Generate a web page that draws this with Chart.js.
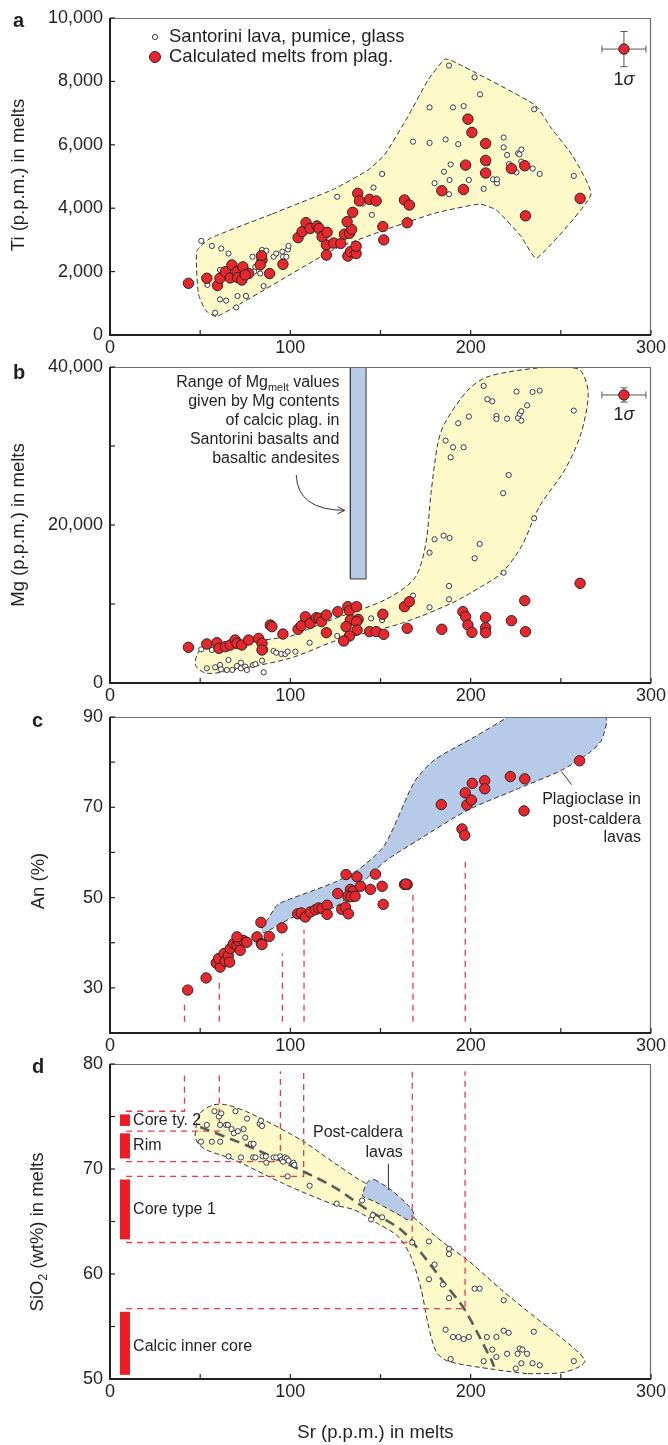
<!DOCTYPE html>
<html>
<head>
<meta charset="utf-8">
<title>Sr in melts — Santorini</title>
<script src="https://cdn.jsdelivr.net/npm/chart.js@4.4.1/dist/chart.umd.min.js"></script>
<style>
  html, body { margin:0; padding:0; background:#fff; }
  #wrap { position:relative; width:668px; height:1445px; overflow:hidden; }
  #wrap canvas { position:absolute; left:0; top:0; }
</style>
</head>
<body>
<div id="wrap">
  <canvas id="panelA" width="668" height="1445"></canvas>
  <canvas id="panelB" width="668" height="1445"></canvas>
  <canvas id="panelC" width="668" height="1445"></canvas>
  <canvas id="panelD" width="668" height="1445"></canvas>
</div>
<script>
// ================= DATA =================
const srLabels  = [0, 100, 200, 300];
const tiLabels  = [0, 2000, 4000, 6000, 8000, 10000];
const mgLabels  = [0, 20000, 40000];
const anLabels  = [30, 50, 70, 90];
const sioLabels = [50, 60, 70, 80];

// panel a : Sr vs Ti
const tiMelts = [[43.5,1630],[53.7,1790],[59.6,1560],[61,1790],[64,2000],[67.6,2210],[66.7,1800],[70.4,2000],[70.8,1810],[73.7,2150],[73.1,1735],[76.9,1940],[75,1900],[84.3,2370],[84,2500],[83.3,2210],[88.5,1940],[95.9,2230],[104.3,3070],[106.5,3260],[108.7,3545],[111,3360],[114.8,3440],[115.9,3360],[117.6,3100],[120.4,3240],[120,2840],[120,2520],[124,2900],[128,2890],[131.9,2490],[133.3,2630],[136.5,2570],[136.5,2800],[130,3180],[132.8,3210],[134,3330],[131.5,3575],[134.6,3870],[137.4,4470],[138.3,4230],[143.9,4280],[147.6,4230],[151.3,3420],[151.8,3000],[163.3,4260],[166,4100],[164.8,3540],[184,4550],[196,4590],[197.2,5360],[198.5,6810],[200.7,6390],[208.3,6040],[208.3,5510],[208.3,5110],[222.6,5250],[230,5340],[230.4,3760],[260.7,4310]];
const tiLavas = [[50.6,2970],[56.5,2810],[61.7,2730],[65.7,2570],[54,1580],[61,1125],[64.4,1085],[58.3,700],[70.7,1230],[75.4,1230],[70,870],[61,2050],[79,2470],[80.6,2150],[85.2,1545],[84.3,2680],[86.7,2660],[85,2470],[80,2000],[83.3,1940],[90.7,2470],[92.2,2570],[95.6,2630],[96,2470],[97.8,2470],[98.7,2700],[99,2810],[126,4360],[140.2,4150],[146.1,4650],[150.9,5080],[145.2,3790],[168,6100],[177.2,7180],[177.2,6060],[186.1,6170],[188,8500],[190.2,7180],[196.1,7220],[193.1,6020],[180,4790],[185.2,5150],[188.3,4890],[188.9,5380],[188,4440],[199,4890],[202.2,8130],[205.2,7590],[207.2,4610],[209.3,5420],[212.4,4910],[214.6,4790],[214.6,4910],[218.3,6230],[218.3,5920],[220.2,5680],[221.3,5390],[225.4,5130],[226.3,5730],[227,5700],[228.1,5850],[228.1,5470],[234.4,5250],[238.3,5080],[235.2,7120],[257.2,5020]];
const tiField = [[90,3820],[124,4600],[143,5200],[152.2,5680],[165.2,6890],[176.3,8040],[185.6,8700],[190.2,8640],[235.6,7260],[244.8,6520],[256.8,5630],[266.7,4420],[236.5,2420],[228.1,3100],[214.3,3940],[205,4130],[180,3840],[152.2,3310],[124.2,2700],[59.3,580],[53,780],[49,1300],[48.1,2650],[55.6,3050],[90,3820]];
const tiSigma = [285, 9020, 12.2, 555];   // x, y, ±x, ±y

// panel b : Sr vs Mg
const mgMelts = [[43.5,4520],[53.7,4940],[59.3,5100],[60.4,4390],[64,4600],[66.7,4810],[69.4,5440],[70.4,5020],[73.1,4810],[76.9,5440],[82.4,5650],[84.3,5020],[84.3,4180],[88.9,7340],[89.8,7130],[95.9,6200],[104.3,6800],[106.1,7260],[108.3,8390],[111,7550],[114.4,8270],[116,8180],[117.3,7760],[120,8610],[120,6370],[126.3,9030],[131.9,9660],[132.8,9150],[136.7,9660],[133.3,7970],[130.9,7130],[137.6,8050],[136.7,7760],[137,6710],[132.8,5950],[129.6,5320],[143.9,6500],[147.6,6500],[151.8,6160],[151.3,8700],[163.3,9660],[166,10290],[164.8,6920],[184,6800],[195.7,9030],[197.2,8390],[198.5,7340],[200.7,6410],[208.3,8310],[208.3,7000],[208.3,6370],[222.6,7890],[230,10420],[230.4,6500],[260.7,12620]];
const mgLavas = [[50.6,4260],[56.5,4180],[53.7,1860],[58.3,1990],[61,2280],[61.5,1730],[65.7,2910],[64.8,1650],[67.8,1650],[70.4,2150],[72.6,2570],[72.6,1860],[75,2070],[75.9,1650],[79.3,2280],[80.6,2400],[84.3,2830],[85.2,1350],[86.1,4260],[90.7,4050],[92.2,3840],[95,3670],[97.2,3670],[98.5,3970],[102.8,3970],[110.7,5100],[126,5950],[144.8,8180],[150.9,7970],[168,11060],[177.2,9580],[188,12280],[188,10590],[177.2,16500],[180,18190],[185,18650],[188.3,18360],[205,17600],[202.2,15790],[218.3,13960],[235.2,20850],[218,24020],[221.1,26330],[186.1,30680],[190.2,29840],[196.1,29840],[188.9,28570],[193.1,32880],[199,33720],[207.2,37600],[209.3,35920],[212,35660],[214.3,33800],[214.3,33420],[220.2,33460],[225.4,36880],[226.3,33550],[227.2,34060],[228.1,34400],[228.1,33210],[231.3,35140],[234.3,36840],[238.3,37010],[257.2,34480]];
const mgField = [[100,5900],[124,8100],[152.2,10500],[168.9,13250],[175,17500],[178,24000],[181.8,30330],[185.6,32870],[198.5,37090],[209.6,38780],[235.6,39840],[253.8,39950],[261.2,39500],[265.2,36680],[261.2,31600],[252.2,26970],[238.1,22320],[228.1,17260],[217,13890],[205.9,12200],[189.3,10090],[161.5,7550],[133.7,5860],[124.4,5300],[100,3150],[68.5,1650],[53.7,1230],[47.5,2200],[48.5,3700],[53,4750],[70,5000],[100,5900]];
const mgPlagRange = [[133.3,13170],[142,13170],[142,40000],[133.3,40000],[133.3,13170]];
const mgSigma = [285, 36460, 12.2, 900];

// panel c : Sr vs An
const anMelts = [[43.1,29.5],[53.3,32.2],[58.9,35.5],[61.1,34.6],[60.2,36.5],[63.3,37.6],[63.9,35.9],[65.6,37.1],[66.3,35.7],[66.7,38.7],[68.5,39.8],[70.4,39.4],[71.3,40.4],[72.2,38.3],[74,40.5],[75.9,40.1],[70.4,41.3],[81.5,41.3],[83.7,44.5],[83.9,39.8],[84.3,39.6],[88.3,41.4],[95.4,43.3],[104.1,46.4],[106.1,46.6],[108.3,45.7],[111.1,46.8],[113.9,47.3],[115.7,47.7],[117.6,47.6],[120.4,48.3],[120.4,46.3],[126.3,50.9],[128.5,47.4],[130.6,47.9],[132.2,46.4],[130.9,55.1],[136.9,54.6],[133.3,51.8],[134.8,51.4],[131.9,50.3],[133.7,50.2],[135.9,50.3],[138.9,52.5],[144.4,51.8],[147.2,55.2],[150.9,52.5],[151.5,48.5],[163.3,52.9],[164.8,52.9],[164.1,53],[183.7,70.6],[195.2,65.2],[196.7,63.8],[197,73.2],[197.9,70.5],[200.4,71.6],[200.9,75.3],[207.8,75.9],[207.8,74.1],[222,76.8],[230,76.3],[229.6,69.2],[260.4,80.3]];
const anField = [[220.7,90],[274.4,90],[272.6,84.9],[265.2,81.9],[250.4,78.2],[224.4,73.8],[198.5,69.4],[170.7,62.7],[152.2,57.9],[135.6,51.6],[124.2,47.8],[101.9,45.7],[85.2,42.2],[84.3,43.2],[88,45.5],[92.6,48.3],[98.1,49.4],[124,53.3],[137.4,56.1],[152.2,61.6],[168.9,75.7],[180,80.5],[202.2,85.6],[220.7,90]];
const anDrops = [[41.3,26.9],[60.6,32.3],[95.6,37.6],[107.6,42.9],[168,51.3],[197,58.3]];  // x, top of dashed drop line
const anDropBase = 22.5;

// panel d : Sr vs SiO2
const sioLavas = [[50.4,72.6],[53.7,74.2],[56.5,72.6],[57.9,75.5],[60.4,75.0],[61.7,75.3],[61.1,74.2],[61.1,72.6],[64.4,74.2],[65.4,74.2],[65.7,71.2],[67.4,73.8],[68.7,73.4],[69.6,75.5],[70.9,73.6],[72.6,71.1],[74.1,73.8],[75,73.0],[76,74.8],[78.1,72.4],[79.6,72.4],[79.3,71.1],[80.6,71.1],[83,74.3],[83.7,74.6],[84.3,74.1],[84.6,71.2],[86.4,71.2],[86.7,70.6],[90.7,71.1],[92.2,71.1],[94.4,71.2],[95.4,70.9],[96,70.7],[96.9,71.1],[98.1,71.0],[99,70.8],[101.7,70.6],[102.2,70.4],[98.5,69.3],[110.7,68.4],[125.7,66.7],[139.8,67.0],[144.8,65.2],[145.7,65.6],[150.9,65.4],[167.6,63.0],[176.9,63.1],[188,62.4],[188,61.9],[180,60.9],[176.9,59.5],[184.6,59.0],[188,57.7],[202.2,58.6],[205,58.6],[218.3,57.5],[186.1,54.7],[190.2,54.0],[193.3,54.0],[196.1,53.8],[199,54.0],[209,54.0],[214.3,54.0],[218.3,54.6],[221.1,54.4],[235,54.5],[188.9,51.9],[207.2,51.7],[212,52.8],[214.3,52.1],[220.2,52.4],[226,52.4],[227.2,52.9],[228.7,52.8],[231.3,52.4],[228.1,51.5],[225,51.0],[234.3,51.5],[238.3,51.3],[257.2,51.7]];
const sioField = [[231.8,50.5],[250.4,50.6],[260.6,51.2],[263.3,51.8],[254,53.4],[235.6,55.9],[217,58.5],[198.5,61.3],[185.6,62.9],[168.9,65.3],[155,67.5],[140,68.8],[124.2,70.6],[105.6,72.8],[77.8,75.3],[64.8,76.1],[57.4,76.1],[50,75.3],[47.2,73.2],[49,72.4],[53.7,71.8],[68.5,70.9],[96.3,68.6],[124.2,66.6],[135.6,66.1],[148.5,64.8],[159.6,63.6],[167,61.6],[172.6,58.5],[176.3,55.3],[180.9,52.6],[187.4,51.7],[213.3,50.9],[231.8,50.5]];
const sioPostCaldera = [[146.7,69.0],[155.9,68.0],[166.1,66.4],[168.9,65.5],[166.1,65.1],[160.6,65.6],[146.7,66.9],[140.2,67.4],[140.2,67.7],[143,68.8],[146.7,69.0]];
const sioTrend = [[50,74.0],[77.8,72.1],[105.6,69.9],[124,68.3],[143,66.1],[161.5,64.2],[172.6,62],[185.6,59.1],[196.7,56.6],[211.5,51.8],[213,51.2]];
const sioDrops = [[41.3,75.5],[60.6,73.6],[94.5,70.7],[107.4,69.3],[167.6,63.0],[196.9,56.7]];   // x of drop line, SiO2 of horizontal
const sioDropTop = 79.3, sioDropLeft = 8.9;
const sioZoneX = 8.3;
const sioZones = [['Core ty. 2',74.1,75.2,74.6],['Rim',71.0,73.4,72.2],['Core type 1',63.3,69.0,66.1],['Calcic inner core',50.4,56.4,53.1]];

// ================= STYLE / LAYOUT =================
const W = 668, H = 1445, PLOT_L = 110, PLOT_R = 651;
const FONT = '"Liberation Sans", Arial, Helvetica, sans-serif';
const INK = '#231f20', RED = '#e8262c', YEL = '#fdf9c8', BLUE = '#b7cbe8', DRED = '#ee3a44';
const TITLE_SIZE = 18.5, LEGEND_SIZE = 18.5, NOTE_SIZE = 16;

Chart.defaults.font.family = FONT;
Chart.defaults.font.size = 18;
Chart.defaults.color = INK;
Chart.defaults.animation = false;
Chart.defaults.events = [];
Chart.defaults.plugins.legend.display = false;
Chart.defaults.plugins.tooltip.enabled = false;

const P = a => a.map(([x, y]) => ({x, y}));

function dots(data, fill, r, bw, order) {
  return {type:'scatter', data:P(data), showLine:false, pointRadius:r, pointBackgroundColor:fill,
          pointBorderColor:'#262626', pointBorderWidth:bw, order};
}
function area(data, fill, dashed, tension, order) {
  return {type:'line', data:P(data), fill:'shape', backgroundColor:fill, borderColor:'#333',
          borderWidth:1, borderDash: dashed ? [5,3] : [], tension, pointRadius:0, order};
}
function seg(data, color, width, dash, order, tension) {
  return {type:'line', data:P(data), fill:false, borderColor:color, borderWidth:width,
          borderDash:dash, tension: tension || 0, pointRadius:0, order, borderCapStyle:'butt'};
}
function sigmaSets(s) {
  const [x, y, dx, dy] = s;
  return [
    {type:'line', data:P([[x-dx,y],[x+dx,y]]), borderColor:'#555', borderWidth:1, fill:false,
     pointStyle:'line', pointRadius:3.5, pointRotation:90, pointBorderColor:'#555', pointBorderWidth:1, order:3},
    {type:'line', data:P([[x,y-dy],[x,y+dy]]), borderColor:'#555', borderWidth:1, fill:false,
     pointStyle:'line', pointRadius:3.5, pointRotation:0, pointBorderColor:'#555', pointBorderWidth:1, order:3},
    dots([[x,y]], RED, 5.2, 1, 1)
  ];
}

function scales(top, bottom, yMin, yMax, yStep, yLabels) {
  return {
    x: {type:'linear', min:0, max:300, afterFit: s => { s.height = H - bottom; },
        grid:{display:false, drawTicks:false}, border:{display:false},
        ticks:{stepSize:50, autoSkip:false, maxRotation:0, padding:2,
               callback: v => srLabels.includes(v) ? String(v) : ''}},
    y: {type:'linear', min:yMin, max:yMax, afterFit: s => { s.width = PLOT_L; },
        grid:{display:false, drawTicks:false}, border:{display:false},
        ticks:{stepSize:yStep, autoSkip:false, padding:7,
               callback: v => yLabels.includes(v) ? v.toLocaleString('en-US') : ''}}
  };
}

// ---------- text helpers ----------
function richText(ctx, parts, x, y, align, size) {
  const fonts = parts.map(p => `${p.italic ? 'italic ' : ''}${p.bold ? 'bold ' : ''}${p.sub ? Math.round(size * 0.66) : size}px ${FONT}`);
  const widths = parts.map((p, i) => { ctx.font = fonts[i]; return ctx.measureText(p.t).width; });
  const total = widths.reduce((a, b) => a + b, 0);
  let cx = align === 'right' ? x - total : align === 'center' ? x - total / 2 : x;
  ctx.textAlign = 'left'; ctx.textBaseline = 'middle'; ctx.fillStyle = INK;
  parts.forEach((p, i) => { ctx.font = fonts[i]; ctx.fillText(p.t, cx, y + (p.sub ? size * 0.32 : 0)); cx += widths[i]; });
}
function vTitle(ctx, parts, cx, cy) {
  ctx.save(); ctx.translate(cx, cy); ctx.rotate(-Math.PI / 2);
  richText(ctx, parts, 0, 0, 'center', TITLE_SIZE); ctx.restore();
}
function circle(ctx, x, y, r, fill, bw) {
  ctx.beginPath(); ctx.arc(x, y, r, 0, Math.PI * 2); ctx.fillStyle = fill; ctx.fill();
  ctx.lineWidth = bw; ctx.strokeStyle = '#262626'; ctx.stroke();
}

function frame(extra) {
  return {
    id: 'frame',
    afterDraw(chart) {
      const {ctx, chartArea: a, scales: {x, y}} = chart;
      ctx.save();
      ctx.strokeStyle = '#6d6e71'; ctx.lineWidth = 1.2;
      ctx.beginPath(); ctx.moveTo(a.left, a.top + 0.5); ctx.lineTo(a.right - 0.5, a.top + 0.5); ctx.lineTo(a.right - 0.5, a.bottom); ctx.stroke();
      ctx.strokeStyle = INK; ctx.lineWidth = 2;
      ctx.beginPath(); ctx.moveTo(a.left, a.top); ctx.lineTo(a.left, a.bottom); ctx.lineTo(a.right, a.bottom); ctx.stroke();
      ctx.lineWidth = 1.2;
      x.ticks.forEach(t => { const px = x.getPixelForValue(t.value); ctx.beginPath(); ctx.moveTo(px, a.bottom); ctx.lineTo(px, a.bottom - 5); ctx.stroke(); });
      y.ticks.forEach(t => { const py = y.getPixelForValue(t.value); ctx.beginPath(); ctx.moveTo(a.left, py); ctx.lineTo(a.left + 5, py); ctx.stroke(); });
      if (extra) extra(chart, ctx, x, y, a);
      ctx.restore();
    }
  };
}

function make(id, top, bottom, datasets, sc, extra) {
  return new Chart(document.getElementById(id), {
    type: 'scatter',
    data: {datasets},
    options: {
      responsive:false, maintainAspectRatio:false,
      layout:{padding:{top, right: W - PLOT_R, bottom:0, left:0}},
      scales: sc
    },
    plugins: [frame(extra)]
  });
}

// ================= PANEL a =================
make('panelA', 18, 335, [
  dots(tiMelts, RED, 5.2, 1, 1),
  dots(tiLavas, '#ffffff', 2.6, 0.9, 2),
  ...sigmaSets(tiSigma),
  area(tiField, YEL, true, 0.15, 9)
], scales(18, 335, 0, 10000, 2000, tiLabels), (ch, ctx, x, y, a) => {
  richText(ctx, [{t:'a', bold:true}], 13, 21, 'left', 20);
  vTitle(ctx, [{t:'Ti (p.p.m.) in melts'}], 19, 175);
  const lx = a.left + 45;
  circle(ctx, lx, a.top + 19, 2.6, '#fff', 0.9);
  circle(ctx, lx, a.top + 39, 5.5, RED, 1);
  richText(ctx, [{t:'Santorini lava, pumice, glass'}], lx + 14, a.top + 19, 'left', LEGEND_SIZE);
  richText(ctx, [{t:'Calculated melts from plag.'}], lx + 14, a.top + 39, 'left', LEGEND_SIZE);
  richText(ctx, [{t:'1'}, {t:'σ', italic:true}], x.getPixelForValue(tiSigma[0]), y.getPixelForValue(tiSigma[1]) + 31, 'center', 18);
});

// ================= PANEL b =================
make('panelB', 367, 683, [
  dots(mgMelts, RED, 5.2, 1, 1),
  dots(mgLavas, '#ffffff', 2.6, 0.9, 2),
  ...sigmaSets(mgSigma),
  {type:'line', data:P(mgPlagRange), fill:'shape', backgroundColor:BLUE, borderColor:'#3a3a3a', borderWidth:1, pointRadius:0, tension:0, order:8},
  area(mgField, YEL, true, 0.3, 9)
], scales(367, 683, 0, 40000, 10000, mgLabels), (ch, ctx, x, y, a) => {
  richText(ctx, [{t:'b', bold:true}], 13, 373, 'left', 20);
  vTitle(ctx, [{t:'Mg (p.p.m.) in melts'}], 19, 525);
  const rx = x.getPixelForValue(127.2);
  const lines = [
    [[{t:'Range of Mg'}, {t:'melt', sub:true}, {t:' values'}], 37975],
    [[{t:'given by Mg contents'}], 35570],
    [[{t:'of calcic plag. in'}], 33165],
    [[{t:'Santorini basalts and'}], 30760],
    [[{t:'basaltic andesites'}], 28355]
  ];
  lines.forEach(([parts, v]) => richText(ctx, parts, rx, y.getPixelForValue(v), 'right', NOTE_SIZE));
  // curved arrow
  const sx = x.getPixelForValue(103.3), sy = y.getPixelForValue(26330);
  const cx = x.getPixelForValue(103.9), cy = y.getPixelForValue(21900);
  const ex = x.getPixelForValue(130.2), ey = y.getPixelForValue(21850);
  ctx.strokeStyle = '#333'; ctx.lineWidth = 1;
  ctx.beginPath(); ctx.moveTo(sx, sy); ctx.quadraticCurveTo(cx, cy, ex, ey); ctx.stroke();
  const ang = Math.atan2(ey - cy, ex - cx);
  ctx.beginPath();
  ctx.moveTo(ex - 8 * Math.cos(ang - 0.45), ey - 8 * Math.sin(ang - 0.45));
  ctx.lineTo(ex, ey);
  ctx.lineTo(ex - 8 * Math.cos(ang + 0.45), ey - 8 * Math.sin(ang + 0.45));
  ctx.stroke();
  richText(ctx, [{t:'1'}, {t:'σ', italic:true}], x.getPixelForValue(mgSigma[0]), y.getPixelForValue(mgSigma[1]) + 20, 'center', 18);
});

// ================= PANEL c =================
make('panelC', 717, 1033, [
  dots(anMelts, RED, 5.2, 1, 1),
  ...anDrops.map(([dx, t]) => seg([[dx, anDropBase], [dx, t]], DRED, 1.3, [6,5], 5)),
  area(anField, BLUE, true, 0.25, 9)
], scales(717, 1033, 20, 90, 10, anLabels), (ch, ctx, x, y, a) => {
  richText(ctx, [{t:'c', bold:true}], 32, 721, 'left', 20);
  vTitle(ctx, [{t:'An (%)'}], 39, 881);
  const rx = x.getPixelForValue(294.4);
  richText(ctx, [{t:'Plagioclase in'}], rx, y.getPixelForValue(71.6), 'right', NOTE_SIZE);
  richText(ctx, [{t:'post-caldera'}], rx, y.getPixelForValue(67.2), 'right', NOTE_SIZE);
  richText(ctx, [{t:'lavas'}], rx, y.getPixelForValue(63.2), 'right', NOTE_SIZE);
  ctx.strokeStyle = '#333'; ctx.lineWidth = 1;
  ctx.beginPath(); ctx.moveTo(x.getPixelForValue(250.4), y.getPixelForValue(77.9)); ctx.lineTo(x.getPixelForValue(256), y.getPixelForValue(75.0)); ctx.stroke();
});

// ================= PANEL d =================
make('panelD', 1064, 1379, [
  dots(sioLavas, '#ffffff', 2.6, 0.9, 1),
  seg(sioTrend, '#5b5b5b', 2.6, [10,6], 3, 0.3),
  ...sioDrops.map(([dx, h]) => seg([[sioDropLeft, h], [dx, h], [dx, sioDropTop]], DRED, 1.3, [6,5], 4)),
  ...sioZones.map(([lab, y0, y1]) => seg([[sioZoneX, y0], [sioZoneX, y1]], '#ed1c24', 10, [], 2)),
  area(sioPostCaldera, BLUE, true, 0.3, 8),
  area(sioField, YEL, true, 0.3, 9)
], scales(1064, 1379, 50, 80, 5, sioLabels), (ch, ctx, x, y, a) => {
  richText(ctx, [{t:'d', bold:true}], 32, 1067, 'left', 20);
  vTitle(ctx, [{t:'SiO'}, {t:'2', sub:true}, {t:' (wt%) in melts'}], 38, 1232);
  sioZones.forEach(([lab, y0, y1, ly]) => richText(ctx, [{t:lab}], x.getPixelForValue(12.8), y.getPixelForValue(ly), 'left', NOTE_SIZE));
  const rx = x.getPixelForValue(162.4);
  richText(ctx, [{t:'Post-caldera'}], rx, y.getPixelForValue(73.5), 'right', NOTE_SIZE);
  richText(ctx, [{t:'lavas'}], rx, y.getPixelForValue(71.6), 'right', NOTE_SIZE);
  ctx.strokeStyle = '#333'; ctx.lineWidth = 1;
  const lx = x.getPixelForValue(154.4);
  ctx.beginPath(); ctx.moveTo(lx, y.getPixelForValue(70.5)); ctx.lineTo(lx, y.getPixelForValue(68.0)); ctx.stroke();
  richText(ctx, [{t:'Sr (p.p.m.) in melts'}], (a.left + a.right) / 2 - 5, 1433, 'center', TITLE_SIZE);
});
</script>
</body>
</html>
